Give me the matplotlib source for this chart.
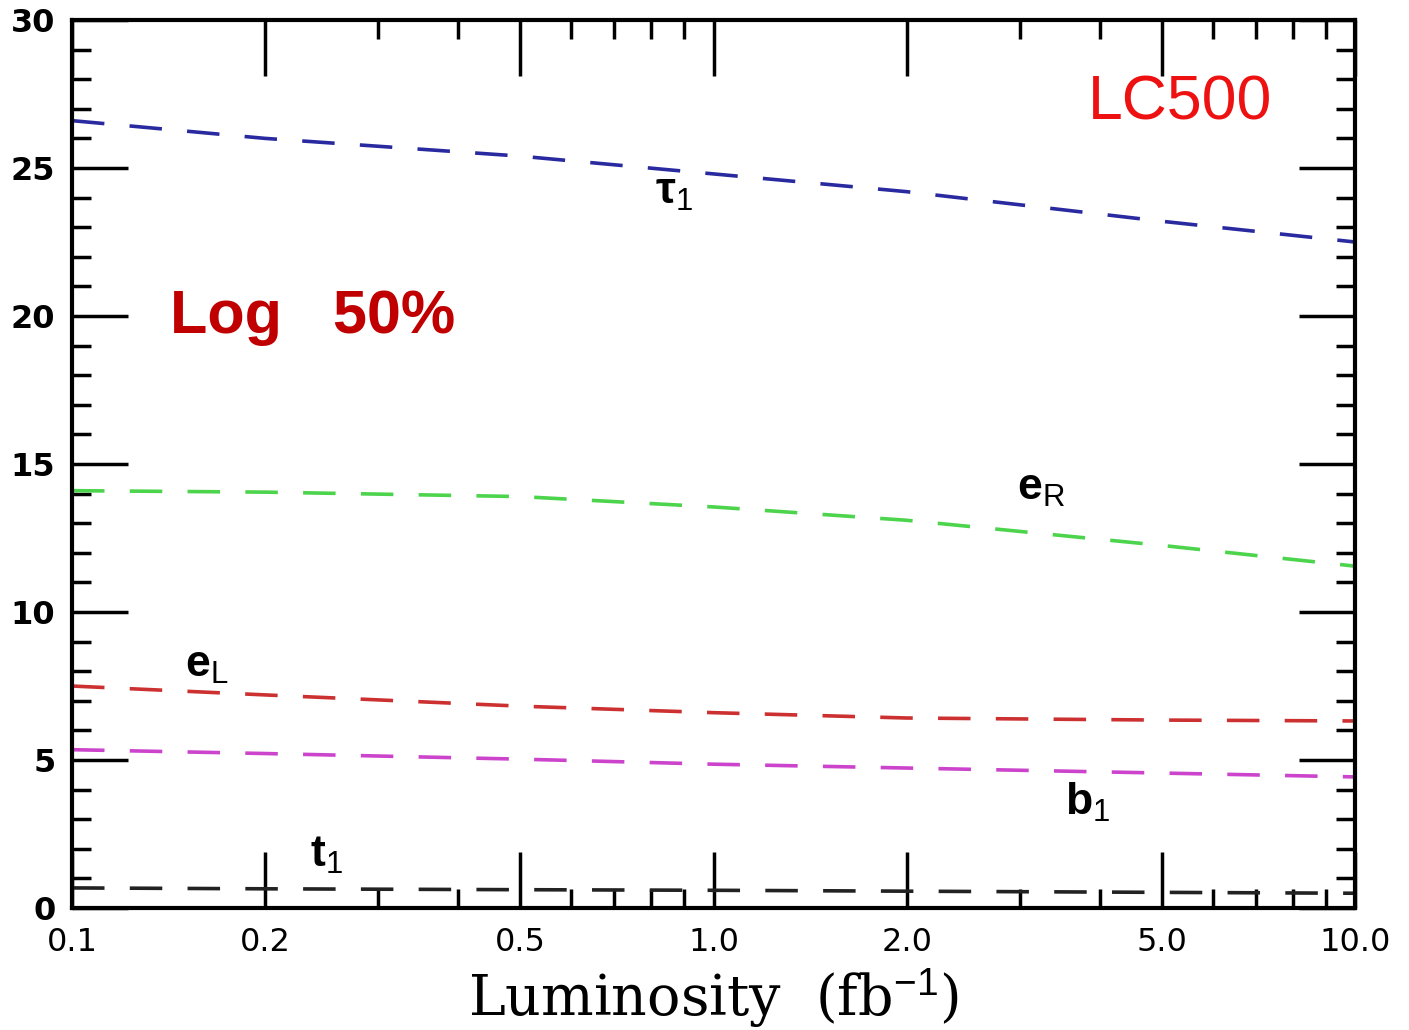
import matplotlib
matplotlib.use("Agg")
import matplotlib.pyplot as plt
import numpy as np
from matplotlib.ticker import FixedLocator, NullFormatter, MultipleLocator

plt.rcParams["mathtext.fontset"] = "custom"
plt.rcParams["mathtext.rm"] = "Liberation Sans"
plt.rcParams["mathtext.it"] = "Liberation Sans"

# luminosity points (fb^-1) and the values
lumi = [0.1, 0.2, 0.5, 1.0, 2.0, 5.0, 10.0]
tau1 = [26.6, 26.0, 25.4, 24.8, 24.2, 23.2, 22.5]
e_R = [14.1, 14.05, 13.9, 13.55, 13.1, 12.25, 11.55]
e_L = [7.5, 7.2, 6.82, 6.6, 6.42, 6.35, 6.32]
b1 = [5.35, 5.22, 5.03, 4.86, 4.73, 4.56, 4.43]
t1 = [0.68, 0.65, 0.62, 0.6, 0.57, 0.53, 0.5]

xticks = [0.1, 0.2, 0.5, 1.0, 2.0, 5.0, 10.0]
xtick_labels = ["0.1", "0.2", "0.5", "1.0", "2.0", "5.0", "10.0"]
yticks = [0, 5, 10, 15, 20, 25, 30]

fig = plt.figure(figsize=(14.09, 10.30), dpi=100)
ax = fig.add_axes([0.0511, 0.1184, 0.9106, 0.8622])

dash = (0, (9, 7))
ax.plot(lumi, tau1, color="#2a2aa0", lw=2.6, linestyle=dash)
ax.plot(lumi, e_R, color="#4cd44c", lw=2.6, linestyle=dash)
ax.plot(lumi, e_L, color="#cc3030", lw=2.6, linestyle=dash)
ax.plot(lumi, b1, color="#cc44cc", lw=2.6, linestyle=dash)
ax.plot(lumi, t1, color="#222222", lw=2.6, linestyle=dash)

ax.set_xscale("log")
ax.set_xlim(0.1, 10.0)
ax.set_ylim(0, 30)

minor_x = [v * d for d in (0.1, 1.0) for v in range(2, 10) if v not in (2, 5)]
ax.xaxis.set_major_locator(FixedLocator(xticks))
ax.xaxis.set_minor_locator(FixedLocator(minor_x))
ax.xaxis.set_minor_formatter(NullFormatter())
ax.set_xticklabels(xtick_labels)
ax.yaxis.set_major_locator(FixedLocator(yticks))
ax.yaxis.set_minor_locator(MultipleLocator(1))

ax.tick_params(which="major", direction="in", length=40, width=2.5,
               top=True, right=True, labelsize=23)
ax.tick_params(which="minor", direction="in", length=14, width=2.5,
               top=True, right=True)
ax.tick_params(axis="x", pad=14)
ax.tick_params(axis="y", pad=12)
for lab in ax.get_yticklabels():
    lab.set_fontweight("bold")
for s in ax.spines.values():
    s.set_linewidth(3)

ax.set_xlabel(r"Luminosity  (fb$^{-1}$)", family="DejaVu Serif", fontsize=40)
ax.xaxis.set_label_coords(0.5, -0.066)

tk = dict(fontsize=32, color="black", ha="left", va="baseline",
          family="Liberation Sans", fontweight="bold")
ax.text(0.811, 23.8, r"τ$_\mathrm{1}$", **tk)
ax.text(2.97, 13.78, r"e$_\mathrm{R}$", **tk)
ax.text(0.150, 7.8, r"e$_\mathrm{L}$", **tk)
ax.text(3.53, 3.14, r"b$_\mathrm{1}$", **tk)
ax.text(0.235, 1.385, r"t$_\mathrm{1}$", **tk)

ax.text(0.864, 0.9065, "LC500", transform=ax.transAxes, fontsize=45,
        family="Liberation Sans", color="#ee1111", ha="center", va="center")
ax.text(0.076, 0.665, "Log   50%", transform=ax.transAxes, fontsize=44,
        family="Liberation Sans", fontweight="bold",
        color="#c00000", ha="left", va="center")

fig.savefig("out.png", dpi=100)
